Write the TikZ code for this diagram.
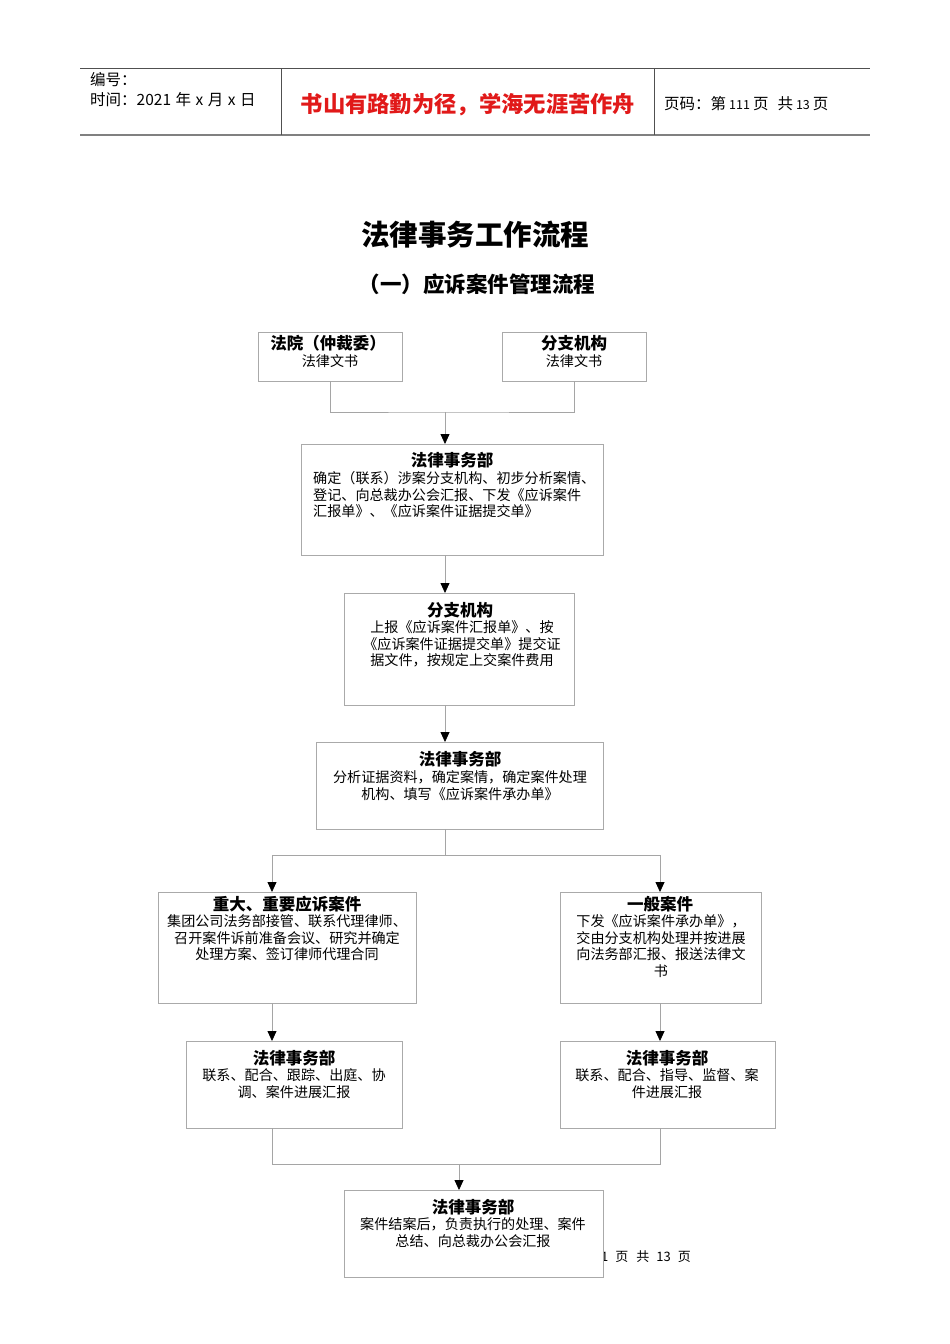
\documentclass[tikz,border=0pt]{standalone}
\usepackage{fontspec}
\setmainfont{Noto Sans CJK SC}
\usetikzlibrary{arrows.meta}
\definecolor{boxline}{RGB}{170,170,170}
\definecolor{connline}{RGB}{165,165,165}
\definecolor{hdrline}{RGB}{80,80,80}
\definecolor{mottored}{RGB}{225,25,25}
\tikzset{x=1pt,y=-1pt,
 box/.style={draw=boxline,line width=0.8pt,fill=white,inner sep=0pt,outer sep=0pt},
 ttl/.style={font=\bfseries\fontsize{16.5}{18}\selectfont,anchor=base,inner sep=0pt},
 bdy/.style={font=\fontsize{14.1}{16.5}\selectfont,align=center,anchor=base,inner sep=0pt},
 link/.style={draw=connline,line width=0.8pt},
 arr/.style={link,-{Triangle[width=9pt,length=10pt,color=black]}},
 hdr/.style={font=\fontsize{15.5}{18}\selectfont,inner sep=0pt},
}
\begin{document}
\begin{tikzpicture}
\useasboundingbox (0,0) rectangle (950,1344);
\fill[white] (0,0) rectangle (950,1344);
% header
\coordinate (hl) at (80,68);
\coordinate (hr) at (870,68);
\coordinate (bl) at (80,135);
\coordinate (br) at (870,135);
\draw[hdrline,line width=0.9pt] (hl) -- (hr);
\draw[gray,line width=1.8pt] (bl) -- (br);
\draw[hdrline,line width=0.6pt] (281,68) -- (281,135);
\draw[hdrline,line width=0.6pt] (654,68) -- (654,135);
\node[hdr,anchor=base west] (h1) at (90,85) {编号：};
\node[hdr,anchor=base west] (h2) at (90,105) {时间：2021\hspace{4.5pt}年\hspace{4.5pt}x\hspace{4.5pt}月\hspace{4.5pt}x\hspace{4.5pt}日};
\node[font=\bfseries\fontsize{22.3}{25}\selectfont,text=mottored,anchor=base,inner sep=0pt] (motto) at (468,112) {书山有路勤为径，学海无涯苦作舟};
\node[hdr,anchor=base west] (h3) at (664,109) {页码：第\hspace{3pt}{\fontsize{12.5}{14}\selectfont 111}\hspace{3pt}页\hspace{9pt}共\hspace{3pt}{\fontsize{12.5}{14}\selectfont 13}\hspace{3pt}页};
% titles
\node[font=\bfseries\fontsize{28.5}{32}\selectfont,anchor=base,inner sep=0pt] (title) at (475,245) {法律事务工作流程};
\node[font=\bfseries\fontsize{21.5}{24}\selectfont,anchor=base,inner sep=0pt] (subtitle) at (477,292) {（一）应诉案件管理流程};
% footer text (partly hidden by last box)
\node[font=\fontsize{13}{15}\selectfont,anchor=base east,inner sep=0pt] (foot) at (691,1261) {第\hspace{7pt}1\hspace{7pt}页\hspace{8pt}共\hspace{7pt}13\hspace{7pt}页};
% junction coordinates
\coordinate (j1) at (445,412);
\coordinate (j2) at (445,855);
\coordinate (jl) at (272,855);
\coordinate (jr) at (660,855);
\coordinate (j3) at (459,1164);
\coordinate (jb) at (272,1164);
\coordinate (jc) at (660,1164);
% boxes
\node[box,minimum width=144pt,minimum height=49pt] (b1) at (330,356.5) {};
\node[box,minimum width=144pt,minimum height=49pt] (b2) at (574,356.5) {};
\node[box,minimum width=302pt,minimum height=111pt] (b3) at (452,499.5) {};
\node[box,minimum width=230pt,minimum height=112pt] (b4) at (459,649) {};
\node[box,minimum width=287pt,minimum height=87pt] (b5) at (459.5,785.5) {};
\node[box,minimum width=258pt,minimum height=111pt] (b6) at (287,947.5) {};
\node[box,minimum width=201pt,minimum height=111pt] (b7) at (660.5,947.5) {};
\node[box,minimum width=216pt,minimum height=87pt] (b8) at (294,1084.5) {};
\node[box,minimum width=215pt,minimum height=87pt] (b9) at (667.5,1084.5) {};
\node[box,minimum width=259pt,minimum height=87pt] (b10) at (473.5,1233.5) {};
% connectors
\draw[link] (b1.south) |- (j1) -| (b2.south);
\draw[arr] (j1) -- (j1 |- b3.north);
\draw[arr] (j1 |- b3.south) -- (j1 |- b4.north);
\draw[arr] (j1 |- b4.south) -- (j1 |- b5.north);
\draw[link] (j1 |- b5.south) -- (j2);
\draw[link] (jl) -- (jr);
\draw[arr] (jl) -- (jl |- b6.north);
\draw[arr] (jr) -- (jr |- b7.north);
\draw[arr] (jl |- b6.south) -- (jl |- b8.north);
\draw[arr] (jr |- b7.south) -- (jr |- b9.north);
\draw[link] (jl |- b8.south) -- (jb) -- (jc) -- (jr |- b9.south);
\draw[arr] (j3) -- (j3 |- b10.north);
% texts (multi-line nodes: base = baseline of last line)
\node[ttl] (t1) at (328,349) {法院（仲裁委）};
\node[bdy] (d1) at (330,366) {法律文书};
\node[ttl] (t2) at (574,349) {分支机构};
\node[bdy] (d2) at (574,366) {法律文书};
\node[ttl] (t3) at (452,466) {法律事务部};
\node[bdy,align=left,anchor=base west] (d3) at (313,516.5) {确定（联系）涉案分支机构、初步分析案情、\\登记、向总裁办公会汇报、下发《应诉案件\\汇报单》、《应诉案件证据提交单》};
\node[ttl] (t4) at (460,616) {分支机构};
\node[bdy] (d4) at (462,665.5) {上报《应诉案件汇报单》、按\\《应诉案件证据提交单》提交证\\据文件，按规定上交案件费用};
\node[ttl] (t5) at (460,765) {法律事务部};
\node[bdy] (d5) at (460,799) {分析证据资料，确定案情，确定案件处理\\机构、填写《应诉案件承办单》};
\node[ttl] (t6) at (287,910) {重大、重要应诉案件};
\node[bdy] (d6) at (287,959.5) {集团公司法务部接管、联系代理律师、\\召开案件诉前准备会议、研究并确定\\处理方案、签订律师代理合同};
\node[ttl] (t7) at (660,910) {一般案件};
\node[bdy] (d7) at (661,976) {下发《应诉案件承办单》，\\交由分支机构处理并按进展\\向法务部汇报、报送法律文\\书};
\node[ttl] (t8) at (294,1064) {法律事务部};
\node[bdy] (d8) at (294,1097) {联系、配合、跟踪、出庭、协\\调、案件进展汇报};
\node[ttl] (t9) at (667,1064) {法律事务部};
\node[bdy] (d9) at (667,1097) {联系、配合、指导、监督、案\\件进展汇报};
\node[ttl] (t10) at (473,1213) {法律事务部};
\node[bdy] (d10) at (473,1246) {案件结案后，负责执行的处理、案件\\总结、向总裁办公会汇报};
\end{tikzpicture}
\end{document}
